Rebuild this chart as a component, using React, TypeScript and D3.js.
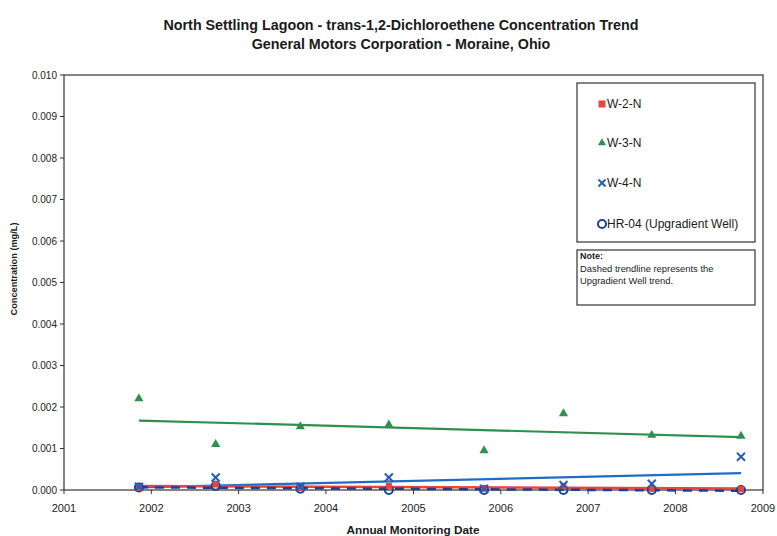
import React from "react";
import * as d3 from "d3";

const sampleDates = ["2001-11-10", "2002-09-27", "2003-09-16", "2004-09-20", "2005-10-23", "2006-09-20", "2007-09-24", "2008-10-01"];
const w2n = [0.00005, 0.00015, 0.00005, 0.0001, 0.00003, 0.0001, 0.00003, 0.00002];
const w3n = [0.0022, 0.0011, 0.00153, 0.00157, 0.00095, 0.00184, 0.00132, 0.0013];
const w4n = [0.00008, 0.0003, 0.00008, 0.0003, 0.00003, 0.00012, 0.00015, 0.0008];
const hr04 = [0.00006, 0.0001, 0.00003, 0.0, 0.0, 0.0, 0.0, 0.0];
const yTicks = [0, 0.001, 0.002, 0.003, 0.004, 0.005, 0.006, 0.007, 0.008, 0.009, 0.01];
const xTickYears = [2001, 2002, 2003, 2004, 2005, 2006, 2007, 2008, 2009];
const legendLabels = ["W-2-N", "W-3-N", "W-4-N", "HR-04 (Upgradient Well)"];
const noteLines = ["Dashed trendline represents the", "Upgradient Well trend."];

const W = 777, H = 536;
const L = 64, R = 763, T = 75, B = 490;

const parse = d3.timeParse("%Y-%m-%d");
const dates = sampleDates.map((s) => parse(s) as Date);

const x = d3.scaleTime().domain([new Date(2001, 0, 1), new Date(2009, 0, 1)]).range([L, R]);
const y = d3.scaleLinear().domain([0, 0.01]).range([B, T]);

const RED = "#e8453c";
const GREEN = "#2f8f4e";
const BLUE = "#2060b8";
const NAVY = "#1d3f94";

function trend(vals: number[]) {
  const xs = dates.map((d) => d.getTime());
  const mx = d3.mean(xs) as number;
  const my = d3.mean(vals) as number;
  let num = 0, den = 0;
  xs.forEach((xv, i) => {
    num += (xv - mx) * (vals[i] - my);
    den += (xv - mx) * (xv - mx);
  });
  const b = num / den;
  const a = my - b * mx;
  const d0 = dates[0], d1 = dates[dates.length - 1];
  return [
    [x(d0), y(a + b * d0.getTime())],
    [x(d1), y(a + b * d1.getTime())],
  ] as [number, number][];
}

const line = d3.line<[number, number]>();

function Square({ cx, cy, s = 7 }: { cx: number; cy: number; s?: number }) {
  return <rect x={cx - s / 2} y={cy - s / 2} width={s} height={s} fill={RED} />;
}
function Tri({ cx, cy, s = 8 }: { cx: number; cy: number; s?: number }) {
  const p = d3.symbol(d3.symbolTriangle, s * s * 0.45)();
  return <path d={p as string} transform={`translate(${cx},${cy})`} fill={GREEN} />;
}
function Cross({ cx, cy, s = 4 }: { cx: number; cy: number; s?: number }) {
  return (
    <g stroke={BLUE} strokeWidth={2}>
      <line x1={cx - s} y1={cy - s} x2={cx + s} y2={cy + s} />
      <line x1={cx - s} y1={cy + s} x2={cx + s} y2={cy - s} />
    </g>
  );
}
function Circ({ cx, cy }: { cx: number; cy: number }) {
  return <circle cx={cx} cy={cy} r={4} fill="none" stroke={NAVY} strokeWidth={2} />;
}

export default function App() {
  const font = "Liberation Sans, Arial, sans-serif";
  const t2 = trend(w2n), t3 = trend(w3n), t4 = trend(w4n), th = trend(hr04);
  const legendY = [104, 143, 183, 224];
  return (
    <svg width={W} height={H} style={{ position: "absolute", left: 0, top: 0, background: "#fff" }} fontFamily={font}>
      <rect x={0} y={0} width={W} height={H} fill="#fff" />
      <text x={401} y={30} textAnchor="middle" fontSize={14.3} fontWeight="bold" fill="#1a1a1a">
        North Settling Lagoon - trans-1,2-Dichloroethene Concentration Trend
      </text>
      <text x={401} y={49} textAnchor="middle" fontSize={14.3} fontWeight="bold" fill="#1a1a1a">
        General Motors Corporation - Moraine, Ohio
      </text>

      {/* plot frame */}
      <rect x={L} y={T} width={R - L} height={B - T} fill="none" stroke="#333" strokeWidth={1.2} />

      {/* y ticks */}
      {yTicks.map((v) => (
        <g key={v}>
          <line x1={L - 4} x2={L} y1={y(v)} y2={y(v)} stroke="#333" />
          <text x={L - 7} y={y(v) + 3.5} textAnchor="end" fontSize={10} fill="#222">
            {d3.format(".3f")(v)}
          </text>
        </g>
      ))}
      {/* x ticks */}
      {xTickYears.map((yr) => {
        const xx = x(new Date(yr, 0, 1));
        return (
          <g key={yr}>
            <line x1={xx} x2={xx} y1={B} y2={B + 4} stroke="#333" />
            <text x={xx} y={512} textAnchor="middle" fontSize={11} fill="#222">
              {yr}
            </text>
          </g>
        );
      })}
      <text x={413} y={534} textAnchor="middle" fontSize={11.8} fontWeight="bold" fill="#1a1a1a">
        Annual Monitoring Date
      </text>
      <text transform={`translate(17,269) rotate(-90)`} textAnchor="middle" fontSize={9.2} fontWeight="bold" fill="#1a1a1a">
        Concentration (mg/L)
      </text>

      {/* trend lines */}
      <path d={line(t3) as string} stroke={GREEN} strokeWidth={2.2} fill="none" />
      <path d={line(t4) as string} stroke="#1f6cc4" strokeWidth={2.2} fill="none" />
      <path d={line(t2) as string} stroke={RED} strokeWidth={2.5} fill="none" />
      <path d={line(th) as string} stroke={NAVY} strokeWidth={2.5} strokeDasharray="9,7" fill="none" />

      {/* markers */}
      {dates.map((d, i) => (
        <g key={i}>
          <Circ cx={x(d)} cy={y(hr04[i])} />
          <Square cx={x(d)} cy={y(w2n[i])} s={6} />
          <Cross cx={x(d)} cy={y(w4n[i])} />
          <Tri cx={x(d)} cy={y(w3n[i])} s={9} />
        </g>
      ))}

      {/* legend */}
      <rect x={577} y={83} width={178} height={159} fill="#fff" stroke="#333" strokeWidth={1.2} />
      {legendLabels.map((lab, i) => {
        const cy = legendY[i];
        const mx = 602;
        return (
          <g key={lab}>
            {i === 0 && <Square cx={mx} cy={cy} s={7} />}
            {i === 1 && <Tri cx={mx} cy={cy} s={8} />}
            {i === 2 && <Cross cx={mx} cy={cy} s={3.5} />}
            {i === 3 && <Circ cx={mx} cy={cy} />}
            <text x={607} y={cy + 4} fontSize={12} fill="#1a1a1a">
              {lab}
            </text>
          </g>
        );
      })}
      <rect x={577} y={250} width={178} height={55} fill="#fff" stroke="#333" strokeWidth={1.2} />
      <text x={580} y={259} fontSize={9} fontWeight="bold" fill="#1a1a1a">Note:</text>
      {noteLines.map((s, i) => (
        <text key={i} x={580} y={272 + i * 12} fontSize={9.4} fill="#1a1a1a">
          {s}
        </text>
      ))}
    </svg>
  );
}
